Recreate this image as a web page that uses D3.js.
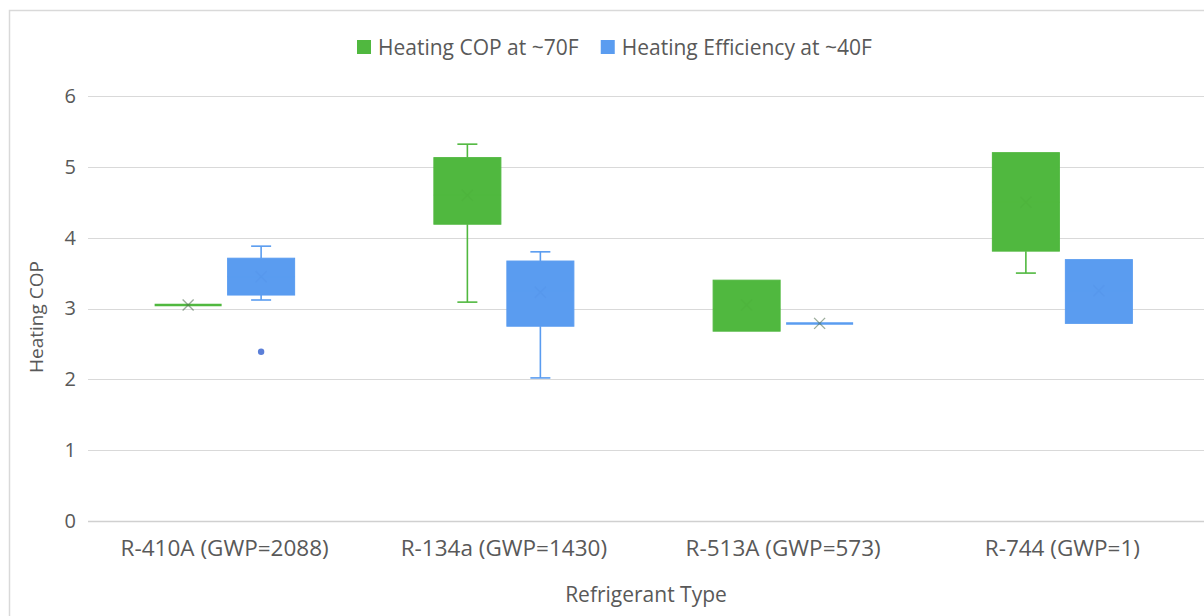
<!DOCTYPE html>
<html>
<head>
<meta charset="utf-8">
<script src="https://cdn.jsdelivr.net/npm/d3@7"></script>
<style>
  html, body { margin: 0; padding: 0; background: #fff; }
  svg { display: block; font-family: "Open Sans", Lato, sans-serif; }
</style>
</head>
<body>
<svg id="chart" width="1204" height="616"></svg>
<script>
// ---- data ----
const categories = ["R-410A (GWP=2088)", "R-134a (GWP=1430)", "R-513A (GWP=573)", "R-744 (GWP=1)"];
const seriesNames = ["Heating COP at ~70F", "Heating Efficiency at ~40F"];
const seriesColors = ["#50b83f", "#5a9cf0"];
const seriesStroke = ["#3f9a32", "#3f7fd6"];
const yTicks = [0, 1, 2, 3, 4, 5, 6];

// per series: min, q1, median, q3, max, mean (one entry per category)
const cop70Min    = [3.05, 3.09, 2.68, 3.50];
const cop70Q1     = [3.05, 4.19, 2.68, 3.81];
const cop70Median = [3.05, 4.60, 3.00, 4.50];
const cop70Q3     = [3.05, 5.13, 3.40, 5.20];
const cop70Max    = [3.05, 5.32, 3.40, 5.20];
const cop70Mean   = [3.05, 4.60, 3.05, 4.50];
const cop70Outliers = [[], [], [], []];

const eff40Min    = [3.12, 2.02, 2.79, 2.79];
const eff40Q1     = [3.19, 2.75, 2.79, 2.79];
const eff40Median = [3.45, 3.25, 2.79, 3.25];
const eff40Q3     = [3.71, 3.67, 2.79, 3.69];
const eff40Max    = [3.88, 3.80, 2.79, 3.69];
const eff40Mean   = [3.45, 3.23, 2.79, 3.25];
const eff40Outliers = [[2.39], [], [], []];

// ---- build table ----
const seriesData = [
  {min: cop70Min, q1: cop70Q1, med: cop70Median, q3: cop70Q3, max: cop70Max, mean: cop70Mean, out: cop70Outliers},
  {min: eff40Min, q1: eff40Q1, med: eff40Median, q3: eff40Q3, max: eff40Max, mean: eff40Mean, out: eff40Outliers}
];
const boxes = [];
categories.forEach((c, ci) => {
  seriesData.forEach((s, si) => {
    boxes.push({cat: c, si, min: s.min[ci], q1: s.q1[ci], med: s.med[ci], q3: s.q3[ci],
      max: s.max[ci], mean: s.mean[ci], out: s.out[ci]});
  });
});

const svg = d3.select("#chart");
const W = 1204, H = 616;
const textColor = "#595959";

// outer border
svg.append("rect").attr("x", 9.5).attr("y", 10.5).attr("width", W).attr("height", H)
  .attr("fill", "#fff").attr("stroke", "#d9d9d9").attr("stroke-width", 1.5);

const plot = {left: 85, right: 1202, top: 96, bottom: 521};

const x = d3.scaleBand().domain(categories).range([plot.left, plot.right]).paddingInner(0).paddingOuter(0);
const bw = x.bandwidth();
const xs = d3.scaleBand().domain([0, 1]).range([bw / 2 - 70, bw / 2 + 70]).paddingInner(0.082).paddingOuter(0);
const y = d3.scaleLinear().domain([0, 6]).range([plot.bottom, plot.top]);

// gridlines
svg.append("g").selectAll("line").data(yTicks.filter(t => t > 0)).join("line")
  .attr("x1", plot.left + 3).attr("x2", W)
  .attr("y1", d => Math.round(y(d)) + 0.5).attr("y2", d => Math.round(y(d)) + 0.5)
  .attr("stroke", "#d9d9d9").attr("stroke-width", 1.2);

// x axis line
svg.append("line").attr("x1", plot.left + 3).attr("x2", W)
  .attr("y1", Math.round(y(0)) + 0.5).attr("y2", Math.round(y(0)) + 0.5)
  .attr("stroke", "#d0d0d0").attr("stroke-width", 1.5);

// y axis
const yAxis = svg.append("g").attr("transform", `translate(${plot.left - 9},0)`)
  .call(d3.axisLeft(y).tickValues(yTicks).tickSize(0).tickPadding(0).tickFormat(d3.format("d")));
yAxis.select(".domain").remove();
yAxis.selectAll("text").attr("fill", textColor).attr("font-size", 20).attr("dy", "0.32em")
  .attr("font-family", "'Open Sans', sans-serif");

// x axis
const xAxis = svg.append("g").attr("transform", `translate(0,${plot.bottom})`)
  .call(d3.axisBottom(x).tickSize(0).tickPadding(19));
xAxis.select(".domain").remove();
xAxis.selectAll("text").attr("fill", textColor).attr("font-size", 22.5).attr("font-family", "'Open Sans', sans-serif");

// axis titles
svg.append("text").attr("x", 646).attr("y", 602)
  .attr("text-anchor", "middle").attr("fill", textColor).attr("font-size", 21).text("Refrigerant Type");
svg.append("text").attr("transform", `translate(43,317) rotate(-90)`)
  .attr("text-anchor", "middle").attr("fill", textColor).attr("font-size", 19).text("Heating COP");

// boxes
const g = svg.append("g");
const bx = d => x(d.cat) + xs(d.si);
const bwid = xs.bandwidth();
const cx = d => bx(d) + bwid / 2;

boxes.forEach(d => {
  const col = seriesColors[d.si], sc = seriesStroke[d.si];
  const grp = g.append("g");
  const cap = 10;
  if (d.max > d.q3) {
    grp.append("line").attr("x1", cx(d)).attr("x2", cx(d)).attr("y1", y(d.max)).attr("y2", y(d.q3))
      .attr("stroke", col).attr("stroke-width", 1.6);
    grp.append("line").attr("x1", cx(d) - cap).attr("x2", cx(d) + cap).attr("y1", y(d.max)).attr("y2", y(d.max))
      .attr("stroke", col).attr("stroke-width", 1.6);
  }
  if (d.min < d.q1) {
    grp.append("line").attr("x1", cx(d)).attr("x2", cx(d)).attr("y1", y(d.q1)).attr("y2", y(d.min))
      .attr("stroke", col).attr("stroke-width", 1.6);
    grp.append("line").attr("x1", cx(d) - cap).attr("x2", cx(d) + cap).attr("y1", y(d.min)).attr("y2", y(d.min))
      .attr("stroke", col).attr("stroke-width", 1.6);
  }
  if (d.q3 > d.q1) {
    grp.append("rect").attr("x", bx(d)).attr("width", bwid)
      .attr("y", y(d.q3)).attr("height", y(d.q1) - y(d.q3))
      .attr("fill", col).attr("stroke", col).attr("stroke-width", 1);
    grp.append("line").attr("x1", bx(d)).attr("x2", bx(d) + bwid).attr("y1", y(d.med)).attr("y2", y(d.med))
      .attr("stroke", col).attr("stroke-width", 1);
  } else {
    grp.append("line").attr("x1", bx(d)).attr("x2", bx(d) + bwid).attr("y1", y(d.q1)).attr("y2", y(d.q1))
      .attr("stroke", col).attr("stroke-width", 2.5);
  }
  const m = 5.5, my = y(d.mean), inside = d.q3 > d.q1;
  grp.append("path")
    .attr("d", `M${cx(d) - m},${my - m}L${cx(d) + m},${my + m}M${cx(d) - m},${my + m}L${cx(d) + m},${my - m}`)
    .attr("stroke", inside ? sc : "#4a6a4a").attr("stroke-opacity", inside ? 0.12 : 0.55)
    .attr("stroke-width", 1.4).attr("fill", "none");
  d.out.forEach(o => {
    grp.append("circle").attr("cx", cx(d)).attr("cy", y(o)).attr("r", 3.2).attr("fill", "#5b7fd8");
  });
});

// legend
const legend = svg.append("g");
const legItems = legend.selectAll("g").data(seriesNames).join("g");
legItems.append("rect").attr("width", 14).attr("height", 14).attr("y", 40)
  .attr("fill", (d, i) => seriesColors[i]);
legItems.append("text").attr("x", 21).attr("y", 47.5).attr("dy", "0.35em")
  .attr("fill", textColor).attr("font-size", 21).text(d => d);
let lx = 357;
legItems.each(function () {
  d3.select(this).attr("transform", `translate(${lx},0)`);
  lx += this.getBBox().width + 22;
});
</script>
</body>
</html>
